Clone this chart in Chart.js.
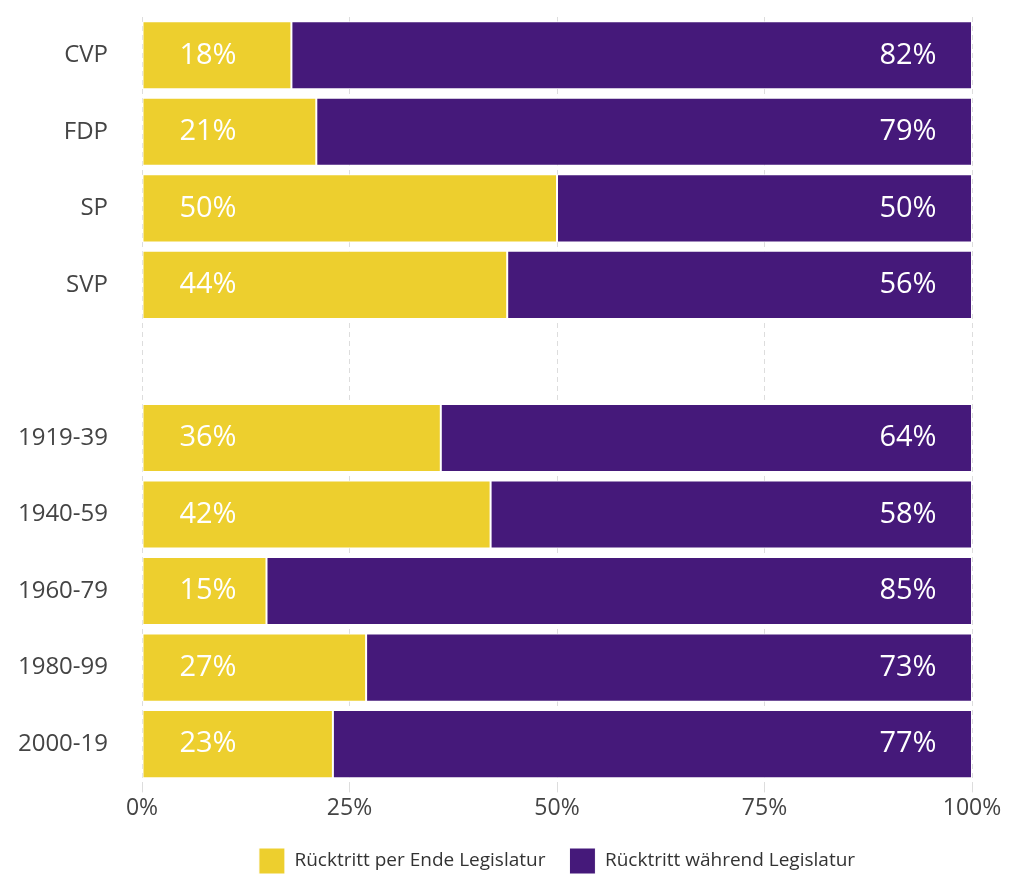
<!DOCTYPE html>
<html>
<head>
<meta charset="utf-8">
<script src="https://cdn.jsdelivr.net/npm/chart.js@4/dist/chart.umd.min.js"></script>
<style>
  html, body { margin: 0; padding: 0; background: #fff; }
  #wrap { width: 1024px; height: 896px; }
</style>
</head>
<body>
<div id="wrap"><canvas id="chart"></canvas></div>
<script>
// Categories (blank entry = gap between party and period groups)
const categories = ['CVP', 'FDP', 'SP', 'SVP', '', '1919-39', '1940-59', '1960-79', '1980-99', '2000-19'];
const endOfTerm = [18, 21, 50, 44, null, 36, 42, 15, 27, 23];
const duringTerm = [82, 79, 50, 56, null, 64, 58, 85, 73, 77];
const xTicks = [0, 25, 50, 75, 100];
const seriesNames = ['Rücktritt per Ende Legislatur', 'Rücktritt während Legislatur'];

const FONT = "'Open Sans', 'Noto Sans', sans-serif";

// Draw percent labels inside bars
const barLabels = {
    id: 'barLabels',
    afterDatasetsDraw(chart) {
        const ctx = chart.ctx;
        const xs = chart.scales.x;
        ctx.save();
        ctx.fillStyle = '#ffffff';
        ctx.font = '29px ' + FONT;
        ctx.textBaseline = 'middle';
        ctx.textAlign = 'center';
        chart.data.datasets.forEach((ds, di) => {
            const meta = chart.getDatasetMeta(di);
            meta.data.forEach((bar, i) => {
                const v = ds.data[i];
                if (v === null) return;
                const x = di === 0 ? xs.getPixelForValue(0) + 66 : xs.getPixelForValue(100) - 64;
                ctx.fillText(v + '%', x, bar.y);
            });
        });
        ctx.restore();
    }
};

new Chart(document.getElementById('chart'), {
    type: 'bar',
    data: {
        labels: categories,
        datasets: [
            {
                label: seriesNames[0],
                data: endOfTerm,
                backgroundColor: '#EDCF2E',
                borderColor: '#ffffff',
                borderWidth: 1,
                borderSkipped: false
            },
            {
                label: seriesNames[1],
                data: duringTerm,
                backgroundColor: '#45197A',
                borderColor: '#ffffff',
                borderWidth: 1,
                borderSkipped: false
            }
        ]
    },
    options: {
        indexAxis: 'y',
        responsive: true,
        maintainAspectRatio: false,
        animation: false,
        categoryPercentage: 1,
        barPercentage: 0.89,
        layout: { padding: { top: 17, right: 52, left: 0, bottom: 12 } },
        scales: {
            x: {
                stacked: true,
                min: 0,
                max: 100,
                afterBuildTicks(axis) {
                    axis.ticks = xTicks.map(v => ({ value: v }));
                },
                border: { display: false, dash: [5, 4] },
                grid: { color: '#dddddd', tickLength: 10, drawTicks: true },
                ticks: {
                    color: '#444444',
                    font: { family: FONT, size: 23 },
                    padding: 2,
                    callback: v => v + '%'
                }
            },
            y: {
                stacked: true,
                border: { display: false },
                grid: { display: false, drawTicks: false },
                afterFit(scale) {
                    scale.width = 142;
                    scale.paddingTop = 0;
                    scale.paddingBottom = 0;
                },
                ticks: {
                    color: '#444444',
                    font: { family: FONT, size: 24 },
                    padding: 34
                }
            }
        },
        plugins: {
            legend: {
                position: 'bottom',
                fullSize: false,
                labels: {
                    boxWidth: 26,
                    boxHeight: 26,
                    color: '#333333',
                    font: { family: FONT, size: 19 },
                    padding: 24
                }
            },
            tooltip: { enabled: false }
        }
    },
    plugins: [barLabels]
});
</script>
</body>
</html>
